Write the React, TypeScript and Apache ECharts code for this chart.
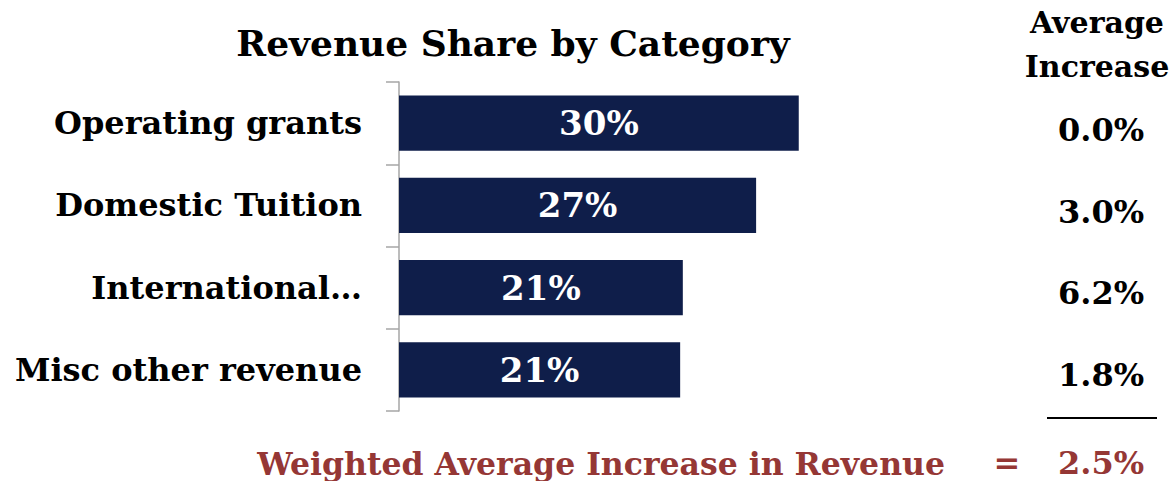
import React, { useEffect, useRef } from "react";
import * as echarts from "echarts";

const categories = ["Operating grants", "Domestic Tuition", "International…", "Misc other revenue"];
const shares = [30.0, 26.8, 21.3, 21.1];
const increases = ["0.0%", "3.0%", "6.2%", "1.8%"];
const weightedLabel = "Weighted Average Increase in Revenue";
const weightedValue = "2.5%";

const FONT = "'DejaVu Serif', serif";

export default function App() {
  const ref = useRef<HTMLDivElement>(null);
  useEffect(() => {
    document.body.style.margin = "0";
    const chart = echarts.init(ref.current!, null, { renderer: "svg" });
    chart.setOption({
      animation: false,
      backgroundColor: "#ffffff",
      textStyle: { fontFamily: FONT },
      title: {
        text: "Revenue Share by Category",
        left: 508,
        top: 20,
        textAlign: "center",
        textStyle: { fontFamily: FONT, fontSize: 36, fontWeight: "bold", color: "#000" },
      },
      grid: [
        { left: 399, right: 239, top: 82, bottom: 70 },
        { left: 399, right: 239, top: 89, bottom: 65 },
      ],
      xAxis: [
        { type: "value", min: 0, max: 40, show: false, gridIndex: 0 },
        { type: "value", min: 0, max: 40, show: false, gridIndex: 1 },
      ],
      yAxis: [
        {
          type: "category",
          gridIndex: 0,
          inverse: true,
          data: categories,
          axisLine: { show: true, lineStyle: { color: "#a6a6a6", width: 1.5 } },
          axisTick: { show: true, length: 13, lineStyle: { color: "#a6a6a6", width: 1.5 } },
          axisLabel: { margin: 37, fontFamily: FONT, fontSize: 32, fontWeight: "bold", color: "#000" },
        },
        {
          type: "category",
          gridIndex: 1,
          inverse: true,
          position: "right",
          data: increases,
          axisLine: { show: false },
          axisTick: { show: false },
          splitLine: { show: false },
          axisLabel: { margin: 169, align: "center", fontFamily: FONT, fontSize: 32, fontWeight: "bold", color: "#000" },
        },
      ],
      series: [
        {
          type: "bar",
          xAxisIndex: 0,
          yAxisIndex: 0,
          data: shares,
          barWidth: "67%",
          itemStyle: { color: "#0f1e4a" },
          label: {
            show: true,
            position: "inside",
            formatter: (p: any) => Math.round(p.value) + "%",
            fontFamily: FONT,
            fontSize: 34,
            fontWeight: "bold",
            color: "#fff",
          },
        },
      ],
      graphic: [
        { type: "text", x: 1097, y: 22, style: { text: "Average", font: `bold 30px ${FONT}`, fill: "#000", textAlign: "center", textVerticalAlign: "middle" } },
        { type: "text", x: 1097, y: 66, style: { text: "Increase", font: `bold 30px ${FONT}`, fill: "#000", textAlign: "center", textVerticalAlign: "middle" } },
        { type: "line", shape: { x1: 1047, y1: 418, x2: 1157, y2: 418 }, style: { stroke: "#000", lineWidth: 2 } },
        { type: "text", x: 945, y: 463, style: { text: weightedLabel, font: `bold 31.5px ${FONT}`, fill: "#953735", textAlign: "right", textVerticalAlign: "middle" } },
        { type: "text", x: 1007, y: 463, style: { text: "=", font: `bold 32px ${FONT}`, fill: "#953735", textAlign: "center", textVerticalAlign: "middle" } },
        { type: "text", x: 1101, y: 463, style: { text: weightedValue, font: `bold 32px ${FONT}`, fill: "#953735", textAlign: "center", textVerticalAlign: "middle" } },
      ],
    });
    return () => chart.dispose();
  }, []);
  return <div ref={ref} style={{ width: 1171, height: 481 }} />;
}
